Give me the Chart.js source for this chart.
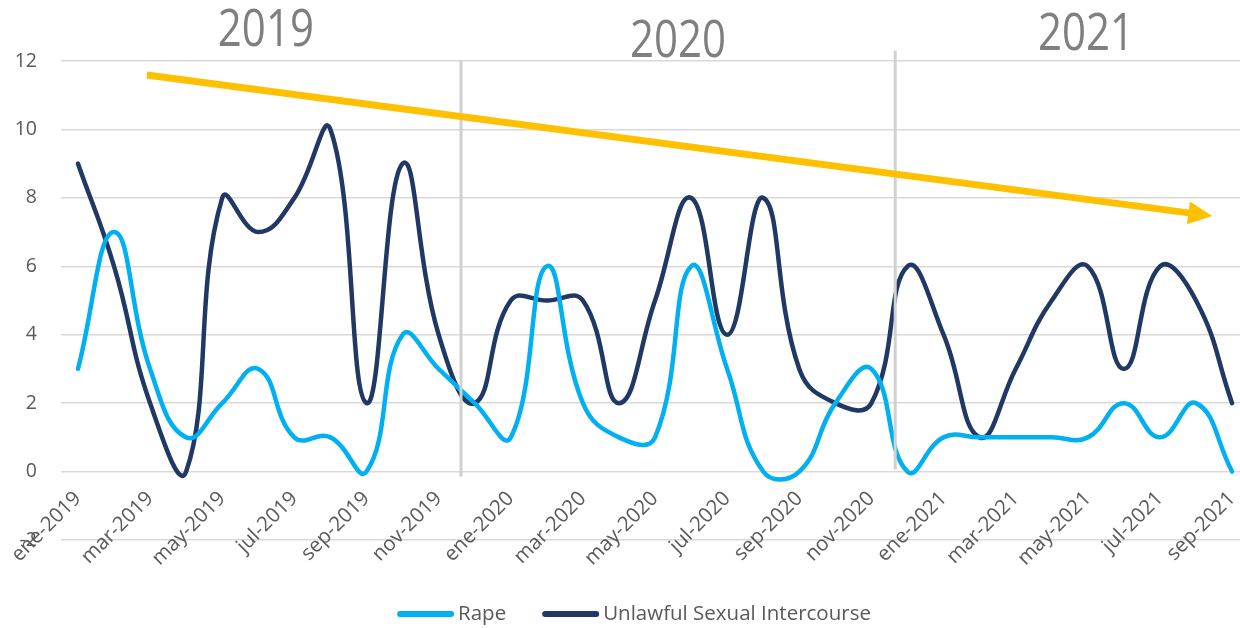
<!DOCTYPE html>
<html><head><meta charset="utf-8">
<script src="https://cdn.jsdelivr.net/npm/chart.js@4.4.1/dist/chart.umd.min.js"></script>
<style>html,body{margin:0;padding:0;background:#fff;overflow:hidden}</style>
</head><body>
<canvas id="c" width="1240" height="628"></canvas>
<script>
// ---- data ----
const months = ['ene-2019','feb-2019','mar-2019','abr-2019','may-2019','jun-2019','jul-2019','ago-2019','sep-2019','oct-2019','nov-2019','dic-2019',
  'ene-2020','feb-2020','mar-2020','abr-2020','may-2020','jun-2020','jul-2020','ago-2020','sep-2020','oct-2020','nov-2020','dic-2020',
  'ene-2021','feb-2021','mar-2021','abr-2021','may-2021','jun-2021','jul-2021','ago-2021','sep-2021'];
const rape = [3,7,3,1,2,3,1,1,0,4,3,2, 1,6,2,1,1,6,3,0,0,2,3,0, 1,1,1,1,1,2,1,2,0];
const usi  = [9,6,2,0,8,7,8,10,2,9,4,2, 5,5,5,2,5,8,4,8,3,2,2,6, 4,1,3,5,6,3,6,5,2];
const seriesNames = ['Rape','Unlawful Sexual Intercourse'];
const xTickIdx = [0,2,4,6,8,10,12,14,16,18,20,22,24,26,28,30,32];
const yearLabels = ['2019','2020','2021'];

// ---- decoration (data units) ----
const yearPos = [{x:5.21,y:12.88},{x:16.64,y:12.54},{x:27.95,y:12.76}];
const separators = [{x:10.62,y0:12.03,y1:-0.15},{x:22.66,y0:12.3,y1:0.06}];
const arrow = {x0:1.91,y0:11.59,x1:31.45,y1:7.47};

const toXY = arr => arr.map((v,i)=>({x:i,y:v}));
const TXT = '#595959';
const FONT = '"Open Sans", "Noto Sans", sans-serif';

const deco = {
  id:'deco',
  afterDatasetsDraw(chart){
    const {ctx, scales:{x,y}} = chart;
    ctx.save();
    // separators
    ctx.strokeStyle = '#d0d0d0'; ctx.lineWidth = 3;
    separators.forEach(s=>{
      const px = x.getPixelForValue(s.x);
      ctx.beginPath(); ctx.moveTo(px, y.getPixelForValue(s.y0)); ctx.lineTo(px, y.getPixelForValue(s.y1)); ctx.stroke();
    });
    // arrow
    const ax0 = x.getPixelForValue(arrow.x0), ay0 = y.getPixelForValue(arrow.y0);
    const ax1 = x.getPixelForValue(arrow.x1), ay1 = y.getPixelForValue(arrow.y1);
    const ang = Math.atan2(ay1-ay0, ax1-ax0);
    const hl = 24, hw = 11.5;
    const bx = ax1 - hl*Math.cos(ang), by = ay1 - hl*Math.sin(ang);
    ctx.strokeStyle = '#FFC000'; ctx.fillStyle = '#FFC000'; ctx.lineWidth = 7; ctx.lineCap = 'butt';
    ctx.beginPath(); ctx.moveTo(ax0, ay0); ctx.lineTo(bx+2*Math.cos(ang), by+2*Math.sin(ang)); ctx.stroke();
    ctx.beginPath();
    ctx.moveTo(ax1, ay1);
    ctx.lineTo(bx - hw*Math.sin(ang), by + hw*Math.cos(ang));
    ctx.lineTo(bx + hw*Math.sin(ang), by - hw*Math.cos(ang));
    ctx.closePath(); ctx.fill();
    // year labels (vertically stretched like the reference text boxes)
    ctx.fillStyle = '#7f7f7f'; ctx.font = '42px ' + FONT; ctx.textAlign = 'center'; ctx.textBaseline = 'middle';
    yearLabels.forEach((t,i)=>{
      ctx.save();
      ctx.translate(x.getPixelForValue(yearPos[i].x), y.getPixelForValue(yearPos[i].y));
      ctx.scale(1, 1.23);
      ctx.fillText(t, 0, 0);
      ctx.restore();
    });
    ctx.restore();
  },
  afterDraw(chart){
    const ctx = chart.ctx;
    ctx.save();
    ctx.font = '20.5px ' + FONT;
    const items = chart.data.datasets.map(ds=>({label:ds.label,color:ds.borderColor,w:ctx.measureText(ds.label).width}));
    const lineW = 57, gapText = 4, gapItem = 36;
    let total = 0; items.forEach(it=> total += lineW + gapText + it.w); total += gapItem*(items.length-1);
    let xx = 634 - total/2; const yy = 614;
    items.forEach(it=>{
      ctx.strokeStyle = it.color; ctx.lineWidth = 6; ctx.lineCap = 'round';
      ctx.beginPath(); ctx.moveTo(xx+3, yy); ctx.lineTo(xx+lineW-3, yy); ctx.stroke();
      ctx.fillStyle = TXT; ctx.textAlign = 'left'; ctx.textBaseline = 'middle';
      ctx.fillText(it.label, xx+lineW+gapText, yy);
      xx += lineW + gapText + it.w + gapItem;
    });
    ctx.restore();
  }
};

new Chart(document.getElementById('c'), {
  type:'line',
  data:{datasets:[
    {label:seriesNames[0], data:toXY(rape), borderColor:'#00B0F0', borderWidth:4.5, pointRadius:0, tension:0.45, borderCapStyle:'round', borderJoinStyle:'round'},
    {label:seriesNames[1], data:toXY(usi), borderColor:'#203864', borderWidth:4.5, pointRadius:0, tension:0.45, borderCapStyle:'round', borderJoinStyle:'round'}
  ]},
  options:{
    responsive:false, animation:false,
    layout:{padding:{left:0,top:61,right:0,bottom:88}},
    plugins:{legend:{display:false}, tooltip:{enabled:false}},
    scales:{
      x:{type:'linear', position:{y:0}, min:-0.471, max:32.22,
        afterBuildTicks:s=>{ s.ticks = xTickIdx.map(v=>({value:v})); },
        afterFit:s=>{ s.paddingLeft = 0; s.paddingRight = 0; s.paddingTop = 0; s.paddingBottom = 0; },
        grid:{display:false, drawTicks:false}, border:{display:false},
        ticks:{autoSkip:false, minRotation:45, maxRotation:45, padding:15, color:TXT, font:{family:FONT,size:20.5},
          callback:(v)=>months[v]}
      },
      y:{min:-2, max:12, afterFit:s=>{ s.width = 61; s.paddingTop = 0; s.paddingBottom = 0; },
        grid:{color:'#d9d9d9', lineWidth:1.5, drawTicks:false}, border:{display:false},
        ticks:{stepSize:2, padding:24, color:TXT, font:{family:FONT,size:19.5}}
      }
    }
  },
  plugins:[deco]
});
</script>
</body></html>
